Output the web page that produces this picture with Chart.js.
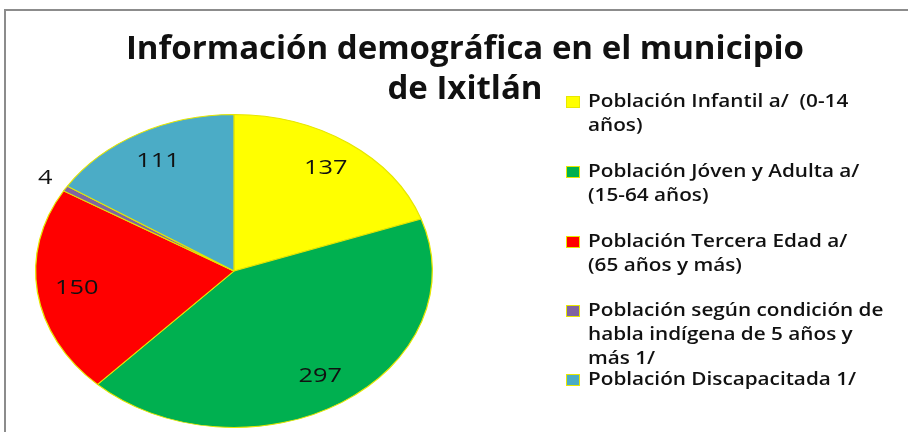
<!DOCTYPE html>
<html>
<head>
<meta charset="utf-8">
<script src="https://cdn.jsdelivr.net/npm/chart.js@4"></script>
<style>
  html, body { margin: 0; padding: 0; background: #fff; }
  #wrap { position: relative; width: 908px; height: 432px; overflow: hidden; }
  #frame { position: absolute; left: 4px; top: 9px; width: 920px; height: 440px;
           border-left: 2px solid #8c8c8c; border-top: 2px solid #8c8c8c; }
  canvas { position: absolute; left: 0; top: 0; }
  .title { position: absolute; left: 0; width: 930px; text-align: center;
           font-family: "Open Sans", sans-serif; font-weight: bold; font-size: 33px; color: #111; }
  #legend { position: absolute; left: 566px; top: 88px; font-family: "Open Sans", sans-serif;
            font-size: 18.5px; font-weight: 600; line-height: 24px; color: #111; }
  .item { position: absolute; left: 0; white-space: pre; }
  .sw { position: absolute; left: 0; top: 8px; width: 12px; height: 10px; border: 1px solid #e8e800; }
  .txt { position: absolute; left: 22px; top: 0; transform: scaleX(1.12); transform-origin: 0 0; }
</style>
</head>
<body>
<div id="wrap">
  <div id="frame"></div>
  <canvas id="pie" width="908" height="432"></canvas>
  <div class="title" style="top:24px">Información demográfica en el municipio</div>
  <div class="title" style="top:64px">de Ixitlán</div>
  <div id="legend"></div>
</div>
<script>
const categories = [
    ['Población Infantil a/  (0-14', 'años)'],
    ['Población Jóven y Adulta a/', '(15-64 años)'],
    ['Población Tercera Edad a/', '(65 años y más)'],
    ['Población según condición de', 'habla indígena de 5 años y', 'más 1/'],
    ['Población Discapacitada 1/']
];
const values = [137, 297, 150, 4, 111];
const colors = ['#ffff00', '#00b050', '#ff0000', '#8064a2', '#4bacc6'];
const legendTops = [0, 70, 140, 209, 278];

const cx = 234, cy = 271, r = 157;
const stretch = 199 / 157;

// draw the pie squashed into the ellipse of the original
const ellipsePlugin = {
    id: 'ellipse',
    beforeDatasetsDraw(chart) {
        const ctx = chart.ctx;
        ctx.save();
        ctx.translate(cx, 0);
        ctx.scale(stretch, 1);
        ctx.translate(-cx, 0);
    },
    afterDatasetsDraw(chart) {
        const ctx = chart.ctx;
        const meta = chart.getDatasetMeta(0);
        const total = values.reduce((a, b) => a + b, 0);
        ctx.font = '20px "Open Sans", sans-serif';
        ctx.fillStyle = '#111';
        ctx.textAlign = 'center';
        ctx.textBaseline = 'middle';
        meta.data.forEach((arc, i) => {
            const mid = (arc.startAngle + arc.endAngle) / 2;
            const f = values[i] / total < 0.02 ? 1.12 : 0.8;
            const x = arc.x + Math.cos(mid) * arc.outerRadius * f;
            const y = arc.y + Math.sin(mid) * arc.outerRadius * f;
            ctx.fillText(String(values[i]), x, y);
        });
        ctx.restore();
    }
};

new Chart(document.getElementById('pie'), {
    type: 'pie',
    data: {
        labels: categories.map(c => c.join(' ')),
        datasets: [{
            data: values,
            backgroundColor: colors,
            borderColor: '#e6e600',
            borderWidth: 1
        }]
    },
    options: {
        responsive: false,
        animation: false,
        events: [],
        layout: { padding: { left: cx - r, top: cy - r, right: 908 - cx - r, bottom: 432 - cy - r } },
        plugins: { legend: { display: false }, tooltip: { enabled: false } }
    },
    plugins: [ellipsePlugin]
});

const legend = document.getElementById('legend');
categories.forEach((lines, i) => {
    const item = document.createElement('div');
    item.className = 'item';
    item.style.top = legendTops[i] + 'px';
    item.innerHTML = '<div class="sw" style="background:' + colors[i] + '"></div>' +
        '<div class="txt">' + lines.join('\n') + '</div>';
    legend.appendChild(item);
});
</script>
</body>
</html>
